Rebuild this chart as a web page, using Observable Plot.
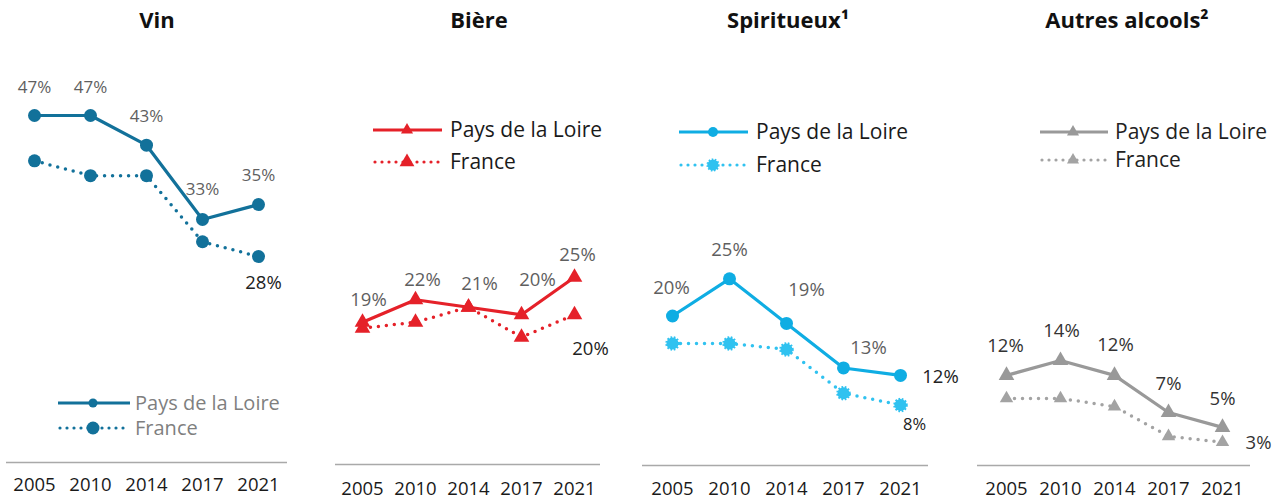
<!DOCTYPE html>
<html><head><meta charset="utf-8">
<script src="https://cdn.jsdelivr.net/npm/d3@7"></script>
<script src="https://cdn.jsdelivr.net/npm/@observablehq/plot@0.6"></script>
<style>
body{margin:0;background:#fff;font-family:"Open Sans",sans-serif;}
#root{position:relative;width:1280px;height:502px;overflow:hidden;background:#fff;}
.panel{position:absolute;top:0;}
.title{position:absolute;top:6px;font-weight:700;font-size:22px;line-height:26px;color:#111;transform:translateX(-50%);white-space:nowrap;}
#legend{position:absolute;left:0;top:0;pointer-events:none;}
</style></head><body><div id="root"></div>
<script>
// ---- data ----
const years = ["2005", "2010", "2014", "2017", "2021"];
const seriesNames = ["Pays de la Loire", "France"];
const titles = ["Vin", "Bière", "Spiritueux¹", "Autres alcools²"];

const vinPdl = [47, 47, 43, 33, 35];
const vinFrance = [40.9, 38.9, 38.9, 30, 28];

const bierePdl = [19, 22, 21, 20, 25];
const biereFrance = [18.2, 19, 21, 17, 20];

const spiritPdl = [20, 25, 19, 13, 12];
const spiritFrance = [16.3, 16.3, 15.5, 9.6, 8];

const autresPdl = [12, 14, 12, 7, 5];
const autresFrance = [8.9, 8.9, 7.8, 3.8, 3];

// ---- panel configuration (layout & style) ----
const panels = [
  {title: titles[0], titleX: 157, left: 0, pdl: vinPdl, fr: vinFrance, color: "#12719a", frColor: "#12719a",
   symbol: "circle", r: 6.5, frR: 6.5, frStar: false, xRange: [34, 258], mL: 6, mR: 33, ruleDy: -2, tickPad: 13,
   labelFill: "#5f5f5f", labelSize: 17, axisColor: "#a9a9a9", yTop: 115,
   pdlOffsets: [[0,-28],[0,-28],[0,-29],[0,-30],[0,-29]],
   frLabel: {i: 4, dx: 5, dy: 26, fill: "#222", size: 18.5},
   legend: {x1: 58, x2: 130, mx: 93, tx: 135, y1: 403, y2: 428, fill: "#7f7f7f", r1: 4.5, r2: 6.5, size: 20}},
  {title: titles[1], titleX: 479, left: 320, pdl: bierePdl, fr: biereFrance, color: "#e52129", frColor: "#e52129",
   symbol: "triangle", r: 5.8, frR: 5.8, frStar: false, xRange: [42, 254], mL: 15, mR: 40, ruleDy: 0, tickPad: 17,
   labelFill: "#5f5f5f", labelSize: 18.5, axisColor: "#a9a9a9", yTop: 112,
   pdlOffsets: [[6,-22],[7,-20],[11,-23],[16,-35],[3,-22]],
   frLabel: {i: 4, dx: 16, dy: 34, fill: "#222", size: 18.5},
   legend: {x1: 373, x2: 442, mx: 407, tx: 450, y1: 130, y2: 162, fill: "#1a1a1a", r1: 4.5, r2: 5.5, size: 21}},
  {title: titles[2], titleX: 788, left: 640, pdl: spiritPdl, fr: spiritFrance, color: "#0fade3", frColor: "#30c2f0",
   symbol: "circle", r: 6.5, frR: 6, frStar: true, xRange: [31, 261], mL: 2, mR: 32, ruleDy: 1, tickPad: 17,
   labelFill: "#5f5f5f", labelSize: 18.5, axisColor: "#a9a9a9", yTop: 115,
   pdlOffsets: [[-1,-28],[0,-29],[20,-33],[25,-20],[40,2]], lastBlack: true,
   frLabel: {i: 4, dx: 14, dy: 20, fill: "#222", size: 16.5},
   legend: {x1: 679, x2: 748, mx: 713, tx: 756, y1: 132, y2: 165, fill: "#1a1a1a", r1: 5, r2: 5.5, size: 21}},
  {title: titles[3], titleX: 1127, left: 960, pdl: autresPdl, fr: autresFrance, color: "#999999", frColor: "#a3a3a3",
   symbol: "triangle", r: 5.8, frR: 5, frStar: false, xRange: [45, 263], mL: 17, mR: 30, ruleDy: 1, tickPad: 17,
   labelFill: "#333", labelSize: 18.5, axisColor: "#a9a9a9", yTop: 115,
   pdlOffsets: [[-1,-29],[1,-29],[1,-30],[0,-28],[0,-28]],
   frLabel: {i: 4, dx: 36, dy: 1, fill: "#333", size: 18.5},
   legend: {x1: 1040, x2: 1108, mx: 1073, tx: 1115, y1: 132, y2: 160, fill: "#222", r1: 4.5, r2: 4.5, size: 21}}
];

const root = document.getElementById("root");

panels.forEach(p => {
  const pdl = years.map((year, i) => ({year, value: p.pdl[i], series: seriesNames[0]}));
  const fr = years.map((year, i) => ({year, value: p.fr[i], series: seriesNames[1]}));
  const marks = [
    Plot.ruleY([0], {stroke: p.axisColor, strokeWidth: 1.5, dy: p.ruleDy}),
    Plot.line(fr, {x: "year", y: "value", stroke: p.frColor, strokeWidth: 3.5, strokeDasharray: "0,8", strokeLinecap: "round"}),
    Plot.line(pdl, {x: "year", y: "value", stroke: p.color, strokeWidth: 3.2}),
    p.frStar
      ? Plot.dot(fr, {x: "year", y: "value", r: p.frR, fill: p.frColor, stroke: p.frColor, strokeWidth: 2.5, strokeDasharray: "1.6,1.6"})
      : Plot.dot(fr, {x: "year", y: "value", symbol: p.symbol, r: p.frR, fill: p.frColor}),
    Plot.dot(pdl, {x: "year", y: "value", symbol: p.symbol, r: p.r, fill: p.color})
  ];
  pdl.forEach((d, i) => {
    const [dx, dy] = p.pdlOffsets[i];
    const black = p.lastBlack && i === pdl.length - 1;
    marks.push(Plot.text([d], {x: "year", y: "value", text: d => d.value + "%", dx, dy,
      fill: black ? "#222" : p.labelFill, fontSize: p.labelSize}));
  });
  const fl = p.frLabel;
  marks.push(Plot.text([fr[fl.i]], {x: "year", y: "value", text: d => d.value + "%", dx: fl.dx, dy: fl.dy, fill: fl.fill, fontSize: fl.size}));

  const chart = Plot.plot({
    width: 320, height: 502,
    marginLeft: p.mL, marginRight: p.mR, marginTop: 0, marginBottom: 38,
    x: {type: "point", domain: years, range: p.xRange, padding: 0, label: null, tickSize: 0, tickPadding: p.tickPad},
    y: {domain: [0, 47], range: [464, p.yTop], axis: null},
    style: {fontFamily: "Open Sans", fontSize: "18.5px", color: "#1a1a1a", background: "transparent", overflow: "visible"},
    marks
  });
  chart.classList.add("panel");
  chart.style.left = p.left + "px";
  root.appendChild(chart);

  const t = document.createElement("div");
  t.className = "title";
  t.style.left = p.titleX + "px";
  t.textContent = p.title;
  root.appendChild(t);
});

// ---- legends ----
const svg = d3.select(root).append("svg").attr("id", "legend").attr("width", 1280).attr("height", 502);
function marker(g, p, x, y, r, star, color) {
  if (p.symbol === "triangle") {
    g.append("path").attr("d", d3.symbol(d3.symbolTriangle, Math.PI * r * r)()).attr("transform", `translate(${x},${y})`).attr("fill", color);
  } else {
    const c = g.append("circle").attr("cx", x).attr("cy", y).attr("r", r).attr("fill", color);
    if (star) c.attr("stroke", color).attr("stroke-width", 2.2).attr("stroke-dasharray", "1.5,1.5");
  }
}
panels.forEach(p => {
  const L = p.legend;
  const g = svg.append("g");
  g.append("line").attr("x1", L.x1).attr("x2", L.x2).attr("y1", L.y1).attr("y2", L.y1).attr("stroke", p.color).attr("stroke-width", 3.2);
  marker(g, p, L.mx, L.y1, L.r1, false, p.color);
  g.append("line").attr("x1", L.x1 + 2).attr("x2", L.x2).attr("y1", L.y2).attr("y2", L.y2).attr("stroke", p.frColor)
    .attr("stroke-width", 3.2).attr("stroke-dasharray", "0,7").attr("stroke-linecap", "round");
  marker(g, p, L.mx, L.y2, L.r2, p.frStar, p.frColor);
  [L.y1, L.y2].forEach((y, i) => {
    g.append("text").attr("x", L.tx).attr("y", y).attr("dy", "0.35em").attr("fill", L.fill)
      .attr("font-family", "Open Sans").attr("font-size", L.size).text(seriesNames[i]);
  });
});
</script></body></html>
